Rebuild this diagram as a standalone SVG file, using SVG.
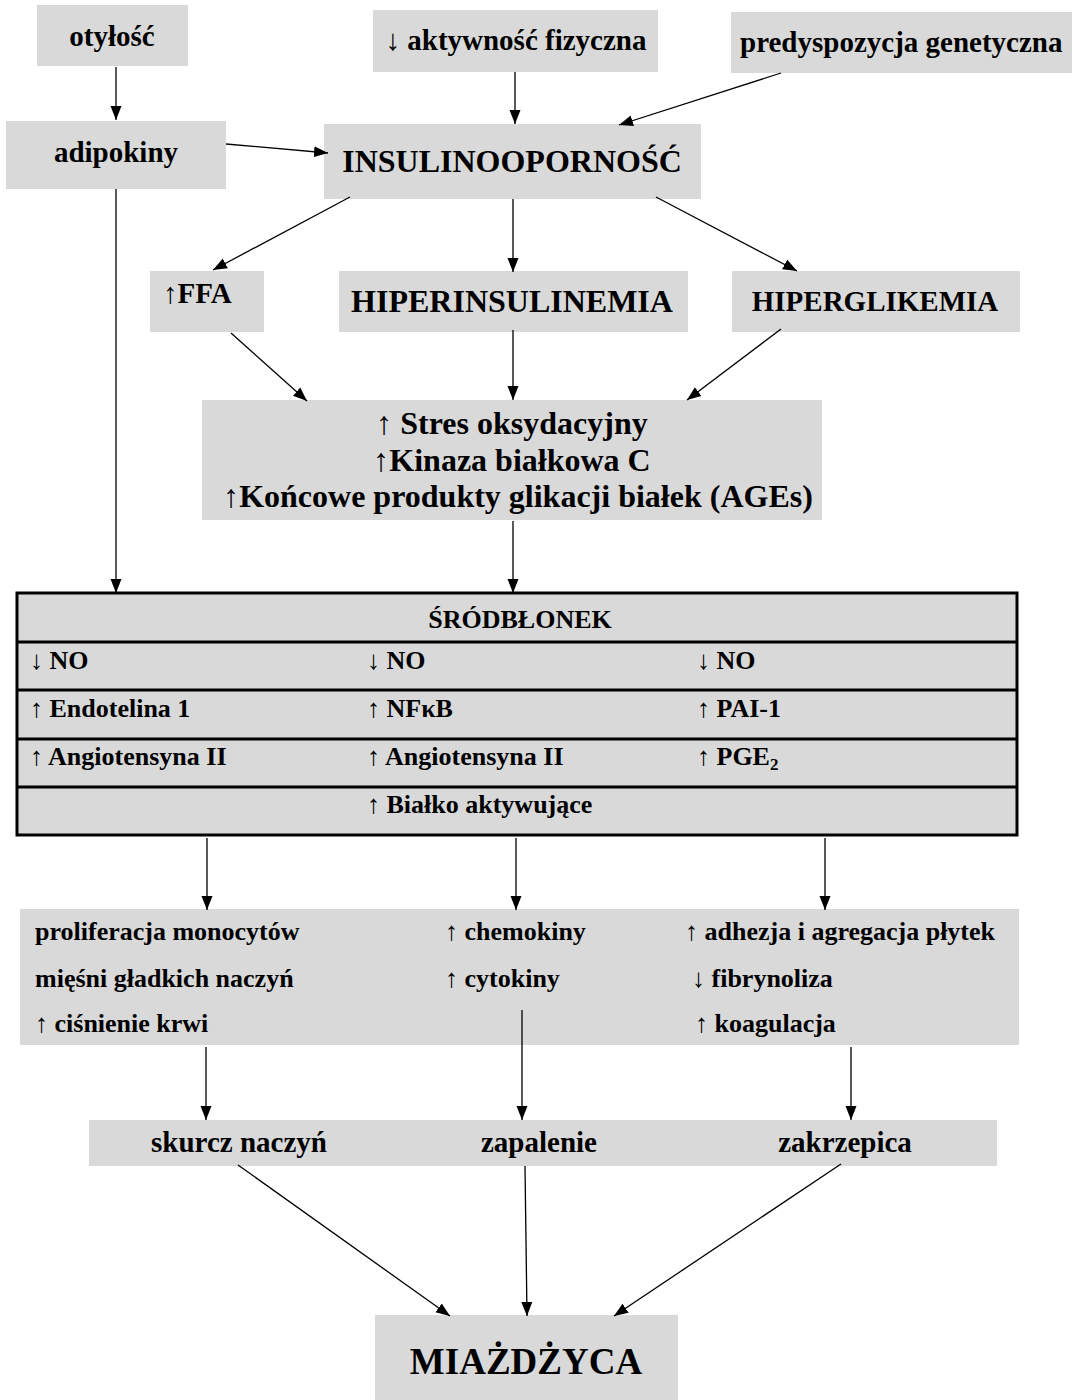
<svg xmlns="http://www.w3.org/2000/svg" width="1072" height="1400" viewBox="0 0 1072 1400">
<style>
.box{fill:#d9d9d9;stroke:none}
text{font-family:"Liberation Serif","Times New Roman",serif;font-weight:bold;fill:#000}
.t29{font-size:29px}
.t26{font-size:26px}
.t32{font-size:32px}
.c{text-anchor:middle}
.ln{stroke:#000;stroke-width:1.3;fill:none;marker-end:url(#ah)}
.grid{stroke:#000;stroke-width:3;fill:none}
</style>
<defs>
<marker id="ah" viewBox="0 0 14 12" refX="14" refY="6" markerWidth="14" markerHeight="12" orient="auto" markerUnits="userSpaceOnUse">
<path d="M0,0.5 L14,6 L0,11.5 z" fill="#000"/>
</marker>
</defs>
<rect width="1072" height="1400" fill="#fff"/>

<g id="otylosc"><rect class="box" x="37" y="5" width="151" height="61"/><text class="t29 c" x="112" y="46">otyłość</text></g>
<g id="aktywnosc"><rect class="box" x="373" y="10" width="285" height="62"/><text class="t29 c" x="516" y="50">↓ aktywność fizyczna</text></g>
<g id="predyspozycja"><rect class="box" x="731" y="12" width="341" height="61"/><text class="t29" x="740" y="52">predyspozycja genetyczna</text></g>
<g id="adipokiny"><rect class="box" x="6" y="121" width="220" height="68"/><text class="t29 c" x="116" y="162">adipokiny</text></g>
<g id="insulinoopornosc"><rect class="box" x="324" y="124" width="377" height="75"/><text class="t32 c" x="512" y="172">INSULINOOPORNOŚĆ</text></g>
<g id="ffa"><rect class="box" x="150" y="271" width="114" height="61"/><text class="t29" x="163" y="303">↑FFA</text></g>
<g id="hiperinsulinemia"><rect class="box" x="339" y="271" width="349" height="61"/><text class="t32 c" x="512" y="312">HIPERINSULINEMIA</text></g>
<g id="hiperglikemia"><rect class="box" x="732" y="271" width="288" height="61"/><text class="t29 c" x="875" y="311">HIPERGLIKEMIA</text></g>
<g id="stres"><rect class="box" x="202" y="400" width="620" height="120"/>
<text class="t32 c" x="512" y="434">↑ Stres oksydacyjny</text>
<text class="t32 c" x="512" y="471">↑Kinaza białkowa C</text>
<text class="t32 c" x="518" y="507">↑Końcowe produkty glikacji białek (AGEs)</text></g>

<g id="srodblonek">
<rect class="box" x="17" y="593" width="1000" height="242"/>
<rect class="grid" x="17" y="593" width="1000" height="242"/>
<line class="grid" x1="17" y1="642" x2="1017" y2="642"/>
<line class="grid" x1="17" y1="690" x2="1017" y2="690"/>
<line class="grid" x1="17" y1="739" x2="1017" y2="739"/>
<line class="grid" x1="17" y1="787" x2="1017" y2="787"/>
<text class="t26 c" x="520" y="628">ŚRÓDBŁONEK</text>
<text class="t26" x="30" y="669">↓ NO</text>
<text class="t26" x="367" y="669">↓ NO</text>
<text class="t26" x="697" y="669">↓ NO</text>
<text class="t26" x="30" y="717">↑ Endotelina 1</text>
<text class="t26" x="367" y="717">↑ NFκB</text>
<text class="t26" x="697" y="717">↑ PAI-1</text>
<text class="t26" x="30" y="765">↑ Angiotensyna II</text>
<text class="t26" x="367" y="765">↑ Angiotensyna II</text>
<text class="t26" x="697" y="765">↑ PGE<tspan font-size="17" dy="5">2</tspan></text>
<text class="t26" x="367" y="813">↑ Białko aktywujące</text>
</g>

<g id="efekty"><rect class="box" x="20" y="909" width="999" height="136"/>
<text class="t26" x="35" y="940">proliferacja monocytów</text>
<text class="t26" x="35" y="987">mięśni gładkich naczyń</text>
<text class="t26" x="35" y="1032">↑ ciśnienie krwi</text>
<text class="t26" x="445" y="940">↑ chemokiny</text>
<text class="t26" x="445" y="987">↑ cytokiny</text>
<text class="t26" x="685" y="940">↑ adhezja i agregacja płytek</text>
<text class="t26" x="692" y="987">↓ fibrynoliza</text>
<text class="t26" x="695" y="1032">↑ koagulacja</text>
</g>

<g id="skutki"><rect class="box" x="89" y="1120" width="908" height="46"/>
<text class="t29 c" x="239" y="1152">skurcz naczyń</text>
<text class="t29 c" x="539" y="1152">zapalenie</text>
<text class="t29 c" x="845" y="1152">zakrzepica</text>
</g>

<g id="miazdzyca"><rect class="box" x="375" y="1315" width="303" height="85"/><text class="c" font-size="37" x="526" y="1374">MIAŻDŻYCA</text></g>

<g id="connectors">
<line class="ln" x1="116" y1="67" x2="116" y2="120"/>
<line class="ln" x1="515" y1="72" x2="515" y2="124"/>
<line class="ln" x1="781" y1="73" x2="619" y2="125"/>
<line class="ln" x1="226" y1="144" x2="328" y2="153"/>
<line class="ln" x1="116" y1="189" x2="116" y2="593"/>
<line class="ln" x1="350" y1="197" x2="213" y2="270"/>
<line class="ln" x1="513" y1="199" x2="513" y2="272"/>
<line class="ln" x1="656" y1="197" x2="797" y2="271"/>
<line class="ln" x1="231" y1="333" x2="307" y2="401"/>
<line class="ln" x1="513" y1="330" x2="513" y2="400"/>
<line class="ln" x1="781" y1="329" x2="687" y2="400"/>
<line class="ln" x1="513" y1="521" x2="513" y2="593"/>
<line class="ln" x1="207" y1="838" x2="207" y2="910"/>
<line class="ln" x1="516" y1="838" x2="516" y2="910"/>
<line class="ln" x1="825" y1="838" x2="825" y2="910"/>
<line class="ln" x1="206" y1="1047" x2="206" y2="1120"/>
<line class="ln" x1="522" y1="1010" x2="522" y2="1120"/>
<line class="ln" x1="851" y1="1047" x2="851" y2="1120"/>
<line class="ln" x1="238" y1="1165" x2="450" y2="1316"/>
<line class="ln" x1="525" y1="1166" x2="527" y2="1316"/>
<line class="ln" x1="841" y1="1164" x2="614" y2="1316"/>
</g>
</svg>
